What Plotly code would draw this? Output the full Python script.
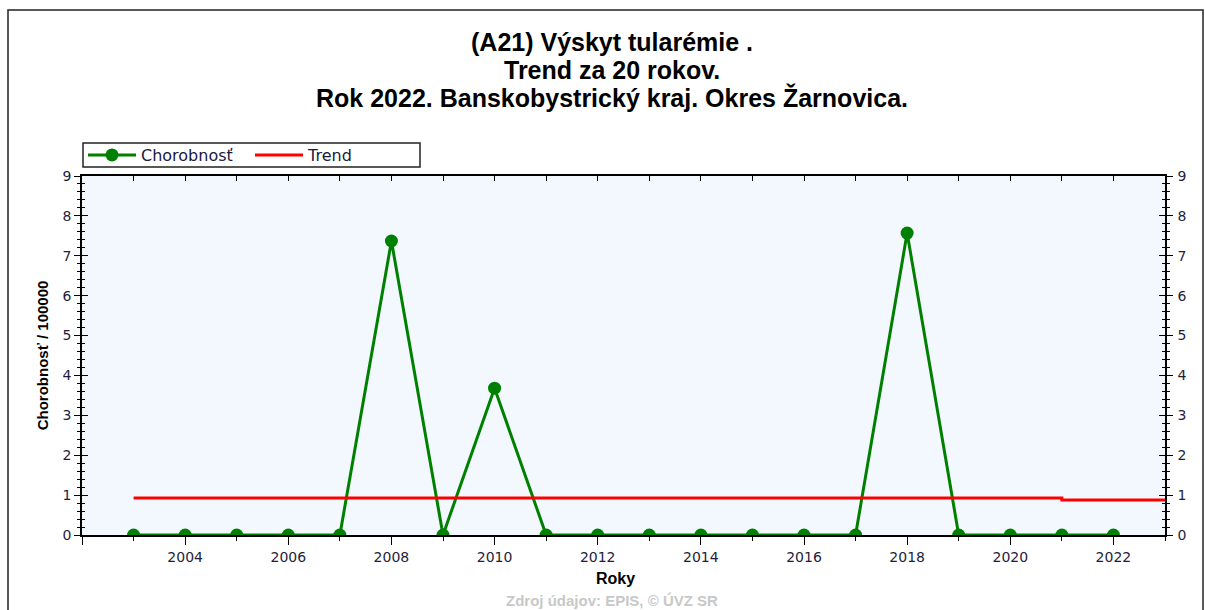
import plotly.graph_objects as go

# Incidence of tularemia per 100 000 inhabitants, district Žarnovica
years = list(range(2003, 2023))
chorobnost = [0, 0, 0, 0, 0, 7.37, 0, 3.68, 0, 0, 0, 0, 0, 0, 0, 7.57, 0, 0, 0, 0]

# Linear trend over the 20-year window (drawn as a step line)
trend_years = [2003, 2021, 2023]
trend_values = [0.93, 0.88, 0.88]

x_tick_vals = [2002, 2004, 2006, 2008, 2010, 2012, 2014, 2016, 2018, 2020, 2022]
x_tick_text = ["", "2004", "2006", "2008", "2010", "2012", "2014", "2016", "2018", "2020", "2022"]
y_tick_vals = list(range(0, 10))

title_lines = [
    "(A21) Výskyt tularémie .",
    "Trend za 20 rokov.",
    "Rok 2022. Banskobystrický kraj. Okres Žarnovica.",
]

BOLD_FONT = "Liberation Sans, Arial, sans-serif"
TICK_FONT = "DejaVu Sans, Verdana, sans-serif"
TICK_COLOR = "#1e1e3c"

# plot area in pixels: left 82, right 1165, top 176, bottom 535
PW, PH = 1083, 359


def px_x(p):
    return (p - 82) / PW


def px_y(p):
    return (535 - p) / PH


fig = go.Figure()

fig.add_trace(go.Scatter(
    x=years, y=chorobnost, name="Chorobnosť", mode="lines+markers",
    line=dict(color="#008000", width=3),
    marker=dict(color="#008000", size=13, symbol="circle"),
))
fig.add_trace(go.Scatter(
    x=trend_years, y=trend_values, name="Trend", mode="lines",
    line=dict(color="#ff0000", width=3, shape="hv"),
))
# invisible helper to activate the secondary axes
fig.add_trace(go.Scatter(x=[2002], y=[0], xaxis="x2", yaxis="y2",
                         mode="markers", marker=dict(opacity=0),
                         showlegend=False, hoverinfo="skip"))

fig.update_layout(
    width=1205, height=610,
    margin=dict(l=82, r=40, t=176, b=75),
    paper_bgcolor="white",
    plot_bgcolor="#f3f8fe",
    font=dict(family=TICK_FONT, size=14, color=TICK_COLOR),
    showlegend=True,
    legend=dict(
        orientation="h", x=px_x(83), y=px_y(155), xanchor="left", yanchor="middle",
        borderwidth=0, bgcolor="rgba(0,0,0,0)",
        font=dict(size=16, color="#1a1a40", family=TICK_FONT),
        entrywidth=104, entrywidthmode="pixels",
        tracegroupgap=0, itemwidth=48,
    ),
    xaxis=dict(
        range=[2002, 2023], showgrid=False, zeroline=False,
        showline=True, linecolor="black", linewidth=1.5,
        tickmode="array", tickvals=x_tick_vals, ticktext=x_tick_text,
        ticks="outside", ticklen=8, tickwidth=1.2, tickcolor="black",
        minor=dict(dtick=1, tick0=2002, ticks="outside", ticklen=4,
                   tickwidth=1.2, tickcolor="black", showgrid=False),
        tickfont=dict(size=14, color=TICK_COLOR, family=TICK_FONT),
    ),
    xaxis2=dict(
        range=[2002, 2023], overlaying="x", side="top", showgrid=False,
        zeroline=False, showline=True, linecolor="black", linewidth=1.5,
        tickmode="linear", tick0=2002, dtick=1, ticks="inside", ticklen=5,
        tickwidth=1.2, tickcolor="black", showticklabels=False,
    ),
    yaxis=dict(
        range=[0, 9], showgrid=False, zeroline=False,
        showline=True, linecolor="black", linewidth=1.5, mirror="ticks",
        tickmode="array", tickvals=y_tick_vals,
        ticks="outside", ticklen=6, tickwidth=1.2, tickcolor="black",
        minor=dict(dtick=0.2, ticks="outside", ticklen=3, tickwidth=1.2,
                   tickcolor="black", showgrid=False),
        tickfont=dict(size=14, color=TICK_COLOR, family=TICK_FONT),
        title=dict(text="<b>Chorobnosť / 100000</b>",
                   font=dict(size=15, color="black", family=BOLD_FONT), standoff=10),
    ),
    yaxis2=dict(
        range=[0, 9], overlaying="y", side="right", showgrid=False,
        zeroline=False, showline=True, linecolor="black", linewidth=1.5,
        mirror="ticks",
        tickmode="array", tickvals=y_tick_vals,
        ticks="inside", ticklen=6, tickwidth=1.2, tickcolor="black",
        minor=dict(dtick=0.2, ticks="inside", ticklen=3, tickwidth=1.2,
                   tickcolor="black", showgrid=False),
        tickfont=dict(size=14, color=TICK_COLOR, family=TICK_FONT),
        ticklabelstandoff=8,
    ),
)

# three-line bold title
for i, line in enumerate(title_lines):
    fig.add_annotation(
        text=f"<b>{line}</b>", xref="paper", yref="paper",
        x=px_x(612), y=px_y(42 + i * 28), xanchor="center", yanchor="middle",
        showarrow=False, font=dict(size=25, color="black", family=BOLD_FONT),
    )

# x axis title and source note
fig.add_annotation(
    text="<b>Roky</b>", xref="paper", yref="paper", x=px_x(615), y=px_y(578),
    xanchor="center", yanchor="middle", showarrow=False,
    font=dict(size=16, color="black", family=BOLD_FONT),
)
fig.add_annotation(
    text="<b>Zdroj údajov: EPIS, © ÚVZ SR</b>", xref="paper", yref="paper",
    x=px_x(612), y=px_y(600), xanchor="center", yanchor="middle", showarrow=False,
    font=dict(size=15, color="#c8c8c8", family=BOLD_FONT),
)

# legend frame
fig.add_shape(
    type="rect", xref="paper", yref="paper",
    x0=px_x(83), x1=px_x(420), y0=px_y(167), y1=px_y(143),
    line=dict(color="#222222", width=1.5), fillcolor="white", layer="below",
)

# outer frame of the chart
fig.add_shape(
    type="rect", xref="paper", yref="paper",
    x0=px_x(8), x1=px_x(1203), y0=px_y(640), y1=px_y(10),
    line=dict(color="#222222", width=1.5), fillcolor="rgba(0,0,0,0)",
    layer="below",
)

fig.write_html("out.html")
